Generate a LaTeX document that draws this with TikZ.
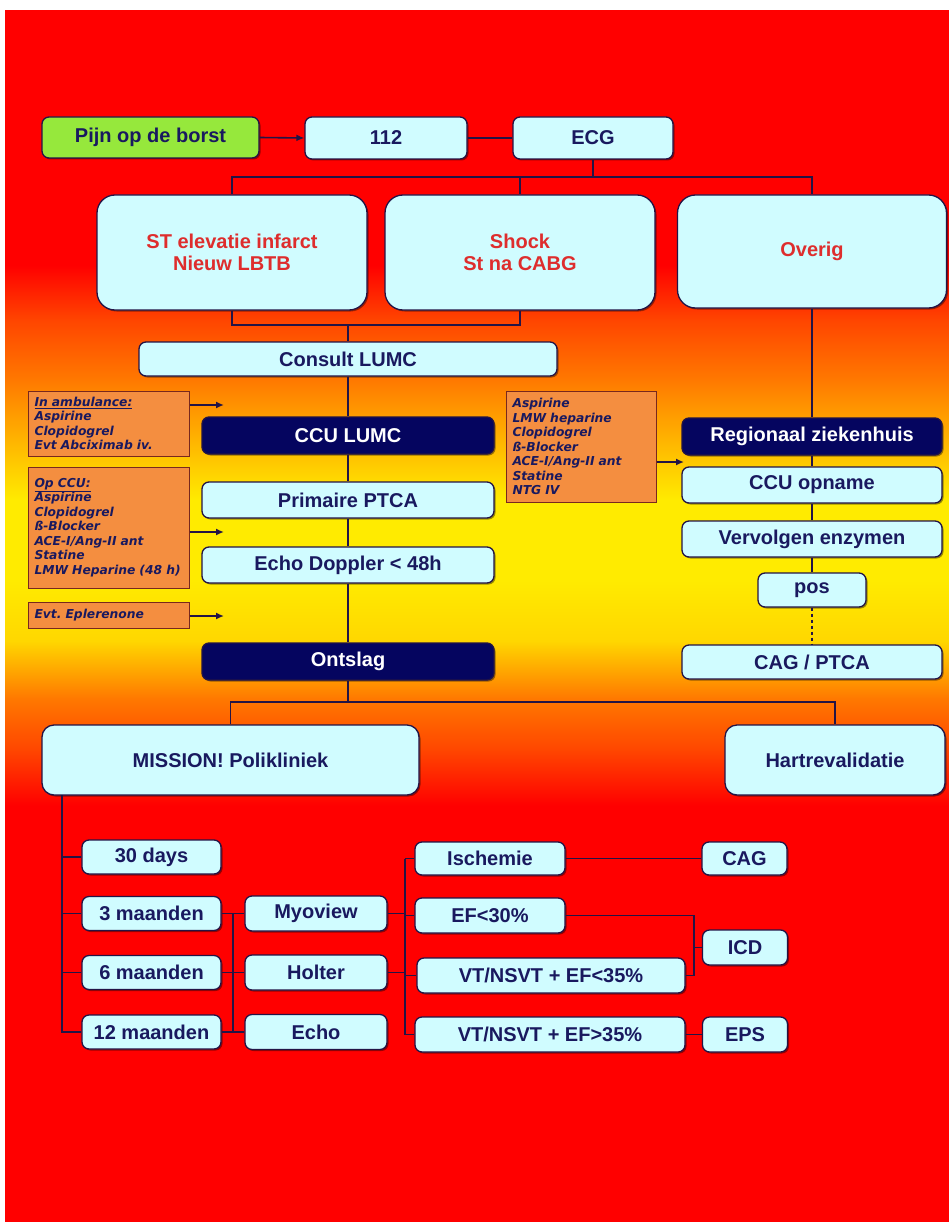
\documentclass[tikz,border=0pt]{standalone}
\usepackage{xcolor}
\usepackage{fontspec}
\setmainfont{Liberation Sans}
\newfontfamily\notefont{DejaVu Sans}
\usepackage{tikz}
\usetikzlibrary{arrows.meta,shadows,calc}

\definecolor{bgRed}{RGB}{255,0,0}
\definecolor{bgDeep}{RGB}{255,70,0}
\definecolor{bgOrange}{RGB}{255,120,0}
\definecolor{bgAmber}{RGB}{255,180,0}
\definecolor{bgGold}{RGB}{255,215,0}
\definecolor{bgYellow}{RGB}{255,235,0}
\definecolor{boxCyan}{RGB}{208,252,255}
\definecolor{boxNavy}{RGB}{5,5,95}
\definecolor{lineNavy}{RGB}{35,20,70}
\definecolor{textNavy}{RGB}{25,25,95}
\definecolor{textRed}{RGB}{222,45,45}
\definecolor{pijnGreen}{RGB}{150,232,60}
\definecolor{noteOrange}{RGB}{244,142,64}
\definecolor{noteEdge}{RGB}{120,40,30}

\pgfdeclareverticalshading{panel}{100bp}{color(0bp)=(bgRed); color(42.2bp)=(bgRed);
	color(44.5bp)=(bgDeep); color(46.6bp)=(bgOrange); color(49bp)=(bgGold);
	color(51.5bp)=(bgYellow); color(54.8bp)=(bgYellow); color(57.3bp)=(bgAmber);
	color(59.8bp)=(bgOrange); color(62.2bp)=(bgDeep); color(64.5bp)=(bgRed); color(100bp)=(bgRed)}

\frenchspacing
\begin{document}
\begin{tikzpicture}[x=1pt,y=-1pt,
		sz/.style 2 args={minimum width=#1,minimum height=#2},
		box/.style={draw=lineNavy,line width=1.3pt,fill=boxCyan,rounded corners=7pt,text=textNavy,
			font=\bfseries\fontsize{20}{22}\selectfont,inner sep=0pt,align=center,
			drop shadow={shadow xshift=1.5pt,shadow yshift=-1.5pt,opacity=.4,fill=black}},
		bigbox/.style={box,rounded corners=18pt,text=textRed},
		darkbox/.style={box,fill=boxNavy,text=white},
		note/.style={draw=noteEdge,line width=1pt,fill=noteOrange,text=textNavy,
			font=\notefont\bfseries\itshape\fontsize{12.3}{14.5}\selectfont,align=left,inner xsep=6.5pt,inner ysep=0pt},
		conn/.style={draw=lineNavy,line width=1.6pt},
		arr/.style={conn,-{Latex[length=8pt,width=7pt]}}]

		\useasboundingbox (0,0) rectangle (949,1222);
		\fill[white] (0,0) rectangle (949,1222);
		\shade[shading=panel] (5,11) rectangle (949,1222);

		% top row
		\node[box,fill=pijnGreen,sz={217}{41}] (pijn) at (150.5,137.5) {Pijn op de borst};
		\node[box,sz={162}{42}] (n112) at (386,138) {112};
		\node[box,sz={160}{42}] (ecg) at (593,138) {ECG};

		\node[bigbox,sz={270}{115}] (stemi) at (232,252.5) {ST elevatie infarct\\Nieuw LBTB};
		\node[bigbox,sz={270}{115}] (shock) at (520,252.5) {Shock\\St na CABG};
		\node[bigbox,sz={269}{113}] (overig) at (812,251.5) {Overig};

		% LUMC column
		\node[box,sz={418}{34}] (consult) at (348,359) {Consult LUMC};
		\node[darkbox,sz={292}{37}] (ccu) at (348,435.5) {CCU LUMC};
		\node[box,sz={292}{36}] (ptca) at (348,500) {Primaire PTCA};
		\node[box,sz={292}{36}] (doppler) at (348,565) {Echo Doppler < 48h};
		\node[darkbox,sz={292}{37}] (ontslag) at (348,661.5) {Ontslag};

		\node[note,text width=148,minimum height=65] (amb) at (108.5,423.5)
			{\underline{In ambulance:}\\Aspirine\\Clopidogrel\\Evt Abciximab iv.};
		\node[note,text width=148,minimum height=121] (opccu) at (108.5,527.5)
			{\underline{Op CCU:}\\Aspirine\\Clopidogrel\\ß-Blocker\\ACE-I/Ang-II ant\\Statine\\LMW Heparine (48 h)};
		\node[note,text width=148,minimum height=26] (eplerenone) at (108.5,615) {Evt. Eplerenone};
		\node[note,text width=137,minimum height=111] (regmeds) at (581,446.5)
			{Aspirine\\LMW heparine\\Clopidogrel\\ß-Blocker\\ACE-I/Ang-II ant\\Statine\\NTG IV};

		% regional column
		\node[darkbox,sz={260}{37}] (regio) at (812,436.5) {Regionaal ziekenhuis};
		\node[box,sz={260}{36}] (ccuop) at (812,485) {CCU opname};
		\node[box,sz={260}{36}] (enzym) at (812,539) {Vervolgen enzymen};
		\node[box,sz={108}{34}] (pos) at (812,590) {pos};
		\node[box,sz={260}{34}] (cagptca) at (812,662) {CAG / PTCA};

		\node[box,rounded corners=12pt,sz={377}{70}] (mission) at (230.5,760) {MISSION! Polikliniek};
		\node[box,rounded corners=12pt,sz={220}{70}] (hart) at (835,760) {Hartrevalidatie};

		% follow-up
		\foreach \nm/\yy/\txt in {d30/857/30 days,m3/913.5/3 maanden,m6/972.5/6 maanden,m12/1032/12 maanden}
			\node[box,sz={139}{34}] (\nm) at (151.5,\yy) {\txt};
		\foreach \nm/\yy/\txt in {myo/913.5/Myoview,holter/972.5/Holter,echo/1032/Echo}
			\node[box,sz={142}{35}] (\nm) at (316,\yy) {\txt};

		\node[box,sz={150}{33}] (isch) at (490,858.5) {Ischemie};
		\node[box,sz={150}{35}] (ef30) at (490,915.5) {EF<30\%};
		\node[box,sz={268}{35}] (vtlow) at (551,975.5) {VT/NSVT + EF<35\%};
		\node[box,sz={270}{35}] (vthigh) at (550,1034.5) {VT/NSVT + EF>35\%};
		\node[box,sz={85}{33}] (cag) at (744.5,858.5) {CAG};
		\node[box,sz={85}{35}] (icd) at (745,947.5) {ICD};
		\node[box,sz={85}{35}] (eps) at (745,1034.5) {EPS};

		% connectors
		\draw[arr] (pijn.east) -- (n112.west);
		\draw[conn] (n112.east) -- (ecg.west);

		\coordinate (ecg bus) at (593,177);
		\draw[conn] (ecg.south) -- (ecg bus);
		\draw[conn] (stemi.north) |- (ecg bus) -| (overig.north);
		\draw[conn] (shock.north) -- (shock.north |- ecg bus);

		\coordinate (stemi bus) at (348,325);
		\draw[conn] (stemi.south) |- (stemi bus) -| (shock.south);
		\draw[conn] (stemi bus) -- (consult.north);
		\draw[conn] (consult.south) -- (ccu.north);
		\draw[conn] (ccu.south) -- (ptca.north);
		\draw[conn] (ptca.south) -- (doppler.north);
		\draw[conn] (doppler.south) -- (ontslag.north);

		\coordinate (amb tip) at (224,405);
		\coordinate (opccu tip) at (224,532);
		\coordinate (epl tip) at (224,616);
		\coordinate (regmeds tip) at (684,462);
		\draw[arr] (amb.east |- amb tip) -- (amb tip);
		\draw[arr] (opccu.east |- opccu tip) -- (opccu tip);
		\draw[arr] (eplerenone.east |- epl tip) -- (epl tip);
		\draw[arr] (regmeds.east |- regmeds tip) -- (regmeds tip);

		\draw[conn] (overig.south) -- (regio.north);
		\draw[conn] (regio.south) -- (ccuop.north);
		\draw[conn] (ccuop.south) -- (enzym.north);
		\draw[conn] (enzym.south) -- (pos.north);
		\draw[conn,line width=1.2pt,dashed] (pos.south) -- (cagptca.north);

		\coordinate (ontslag bus) at (348,702);
		\draw[conn] (ontslag.south) -- (ontslag bus);
		\draw[conn] (mission.north) |- (ontslag bus) -| (hart.north);

		\coordinate (trunk) at (62,795);
		\draw[conn] (trunk) |- (m12.west);
		\foreach \nm in {d30,m3,m6}
			\draw[conn] (trunk |- \nm.west) -- (\nm.west);

		\draw[conn] (m3.east) -- (myo.west);
		\draw[conn] (m6.east) -- (holter.west);
		\draw[conn] (m12.east) -- (echo.west);
		\coordinate (test bus) at ($(m3.east)!.5!(myo.west)$);
		\draw[conn] (test bus) -- (test bus |- echo.west);

		\coordinate (result bus) at (405,858.5);
		\draw[conn] (result bus) |- (vthigh.west);
		\foreach \nm in {isch,ef30,vtlow}
			\draw[conn] (result bus |- \nm.west) -- (\nm.west);
		\draw[conn] (myo.east) -- (result bus |- myo.east);
		\draw[conn] (holter.east) -- (result bus |- holter.east);

		\draw[conn] (isch.east) -- (cag.west);
		\coordinate (icd bus) at (694,915.5);
		\draw[conn] (ef30.east) -| (icd bus |- vtlow.east) -- (vtlow.east);
		\draw[conn] (icd bus |- icd.west) -- (icd.west);
		\draw[conn] (vthigh.east) -- (eps.west);
\end{tikzpicture}
\end{document}
